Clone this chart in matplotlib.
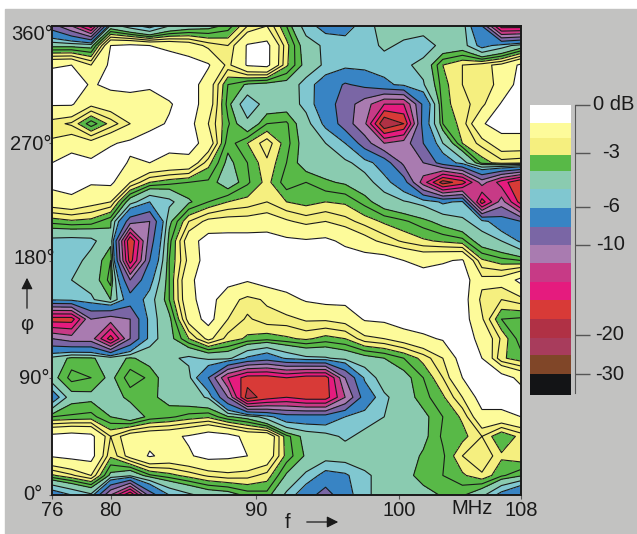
import numpy as np
import matplotlib
matplotlib.use('Agg')
import matplotlib.pyplot as plt
from matplotlib.patches import Rectangle

plt.rcParams['font.family'] = ['Liberation Sans', 'DejaVu Sans']

# attenuation in dB (positive = below 0 dB), one list per angle, 76 -> 108 MHz
phi_360 = [9, 12, 17, 4.5, 5.5, 6.5, 5, 4.5, 4.3, 3.8, 2.5, 2, 3.5, 5.5, 6.5, 6.5, 5.5, 4.5, 4.5, 4.5, 4.5, 4.5, 8, 17, 17]
phi_345 = [4.2, 4.2, 4.3, 1, 0.8, 1, 1.2, 1.5, 2.2, 2.5, 0.9, 0.7, 2.8, 4.5, 5.2, 5.5, 5.5, 4.8, 5.2, 5.5, 4.7, 4.5, 6.5, 5.5, 4.5]
phi_330 = [1.1, 1, 2, 0.8, 0.5, 0.5, 0.5, 0.6, 0.9, 2.2, 0.9, 0.7, 2.9, 4.3, 5.2, 5.6, 5.5, 5.5, 5.2, 4.7, 3, 2.5, 2.2, 1.8, 0.8]
phi_315 = [0.5, 0.5, 1.1, 0.8, 0.8, 0.9, 0.5, 0.5, 1.5, 3.5, 4.1, 4.3, 4.3, 5.4, 6.8, 8.2, 7.5, 6.3, 5.7, 5.1, 3.2, 2.5, 2.3, 1.8, 0.5]
phi_300 = [0.9, 0.9, 1.8, 1.5, 1.3, 1.3, 1.1, 0.5, 1.5, 3.7, 5.8, 4.5, 4.4, 5.3, 7, 9, 11, 14, 14, 7.5, 3.2, 2.7, 2.2, 0.9, 0.5]
phi_285 = [2.3, 2.6, 3.8, 2.8, 2, 1.3, 0.9, 0.6, 2, 3.4, 4.7, 3.5, 3.4, 4.6, 6.3, 9, 11.5, 20, 18, 7, 3.5, 2.8, 1.1, 0.5, 0.5]
phi_270 = [1.9, 1.5, 1.7, 1.1, 0.8, 0.5, 0.8, 0.6, 1.4, 3.8, 3, 2.2, 3.3, 4.4, 5, 6, 9, 12, 11, 8, 5, 3, 2.3, 1.5, 1.5]
phi_255 = [1, 0.5, 0.8, 0.5, 1.1, 1, 1.2, 1.3, 2.8, 4.2, 3.5, 2.6, 3.5, 4.4, 4.5, 4.8, 5.4, 6.8, 10.5, 10, 7, 5.5, 3.3, 2.7, 2.8]
phi_240 = [0.7, 0.5, 0.9, 0.8, 2, 3, 3.3, 3.5, 3.6, 4.5, 3.6, 2.8, 3.8, 3.5, 3.9, 4.1, 4.6, 5.5, 7, 13, 19, 17, 11, 15, 18]
phi_225 = [1.5, 1.3, 1.7, 2, 4.5, 6, 5.3, 4.1, 3.5, 3, 2.8, 2.5, 3, 3.2, 3, 3.1, 3.7, 4.5, 4.9, 5.3, 6.2, 5.8, 17, 11, 17]
phi_210 = [3.3, 3.1, 3.2, 3.9, 9, 10, 4.2, 2.5, 1.8, 1.7, 1.7, 1.6, 1.9, 2.2, 2, 2.3, 2.7, 3.1, 3.4, 3.8, 4.3, 4.8, 5.5, 7, 8]
phi_195 = [5.3, 5.4, 5.3, 4.2, 18, 9, 3.7, 1.5, 0.5, 0.5, 0.5, 0.5, 0.8, 0.9, 0.8, 1.2, 1.7, 2.2, 2.6, 2.9, 3.1, 3.3, 4.5, 5, 6.2]
phi_180 = [5.3, 5.5, 4.6, 3.5, 17, 8, 3.5, 1.8, 0.4, 0.4, 0.5, 0.5, 0.5, 0.5, 0.5, 0.5, 0.5, 0.5, 1, 1.3, 1.1, 0.9, 2.9, 3.3, 3.5]
phi_165 = [5.5, 5, 4.5, 3.3, 10, 6.5, 3.5, 1.2, 0.5, 0.6, 0.9, 0.5, 0.5, 0.5, 0.5, 0.5, 0.5, 0.5, 0.5, 0.5, 0.5, 0.5, 1.8, 1.7, 0.7]
phi_150 = [5.8, 5.6, 5.2, 4, 7, 5.5, 3.5, 1.3, 0.5, 1.7, 2.2, 1.9, 1.3, 0.9, 0.7, 0.7, 0.5, 0.5, 0.5, 0.5, 0.5, 0.5, 2.2, 2.5, 2.2]
phi_135 = [17, 17, 10, 11, 10, 5.5, 4.2, 1.7, 0.6, 2, 2.6, 2.2, 2.2, 1.9, 1.9, 1.7, 0.9, 0.8, 0.4, 0.4, 0.4, 0.5, 1.9, 3.5, 3.6]
phi_120 = [10, 11, 11, 17, 10, 5.5, 4.3, 3, 1.8, 2.7, 3.1, 3.3, 3.1, 2.9, 3.2, 3, 2.2, 2, 1.6, 1.2, 0.9, 0.5, 1.3, 2.6, 3.8]
phi_105 = [4.7, 3.8, 3.9, 4.4, 3.9, 4.3, 4.8, 5.2, 4.8, 4.7, 6.2, 7, 5.8, 5.2, 5.1, 4.7, 4.3, 4, 3.5, 2.8, 2, 0.5, 1, 2.9, 3.3]
phi_90 = [4.3, 3.3, 3.5, 4.2, 3.2, 3.6, 4.5, 4.7, 8, 14, 17, 17, 16, 17, 17, 10, 5.8, 4.4, 4.3, 3.5, 2.5, 1, 0.5, 0.5, 1.3]
phi_75 = [7, 4.3, 4.2, 4.4, 3.8, 3.8, 4.3, 4.6, 5.1, 10, 19, 17, 16, 17, 17, 12, 7, 5.2, 4.4, 3.7, 3.1, 2, 0.5, 0.5, 0.5]
phi_60 = [3.5, 3.4, 3.3, 4, 4.6, 3.8, 3.6, 3.3, 3.1, 3.9, 4.3, 5.5, 7, 7, 7, 6, 5.5, 5, 4.4, 4.2, 3.5, 2.9, 1.3, 1.3, 1]
phi_45 = [0.7, 0.5, 0.7, 2.5, 1.5, 1.3, 1.2, 0.9, 0.4, 0.6, 1.3, 1.2, 3.3, 4.3, 4.6, 5.2, 4.7, 4.4, 4.4, 4.2, 3.4, 3.2, 2.5, 3.5, 2.8]
phi_30 = [0.9, 0.7, 0.6, 2.9, 1.7, 0.9, 1.3, 1.1, 0.7, 0.8, 1, 1.4, 3.2, 4.1, 4.5, 4.4, 4.4, 4.4, 4.4, 3.9, 3.6, 2.5, 2, 2.9, 2.6]
phi_15 = [3.1, 2.6, 2, 4.2, 4.8, 3.6, 3.2, 2.8, 2.4, 2.2, 2.3, 2.7, 4.1, 5.2, 6.5, 6.2, 5.2, 4.6, 4.4, 3.6, 3.5, 3.1, 2.6, 3.4, 3.9]
phi_0 = [7, 6, 5.2, 12, 18, 9, 6, 5.2, 4.6, 4.4, 3.8, 3.7, 5.2, 7, 9, 6.5, 5.3, 4.4, 4.4, 4.4, 3.9, 3.9, 4.7, 6.5, 8]

freq = np.linspace(76, 108, 25)
angle = np.linspace(0, 360, 25)
freq_ticks = [76, 80, 89.9, 99.7, 108]
freq_labels = ['76', '80', '90', '100', '108']
angle_ticks = [0, 90, 180, 270, 360]
angle_labels = ['0°', '90°', '180°', '270°', '360°']

# colour bands, top of the scale first
band_limits = [0, -1, -2, -3, -4, -5, -6, -8, -10, -12, -14, -16, -18, -20, -24, -30, -40]
band_colors = ['#ffffff', '#fdfb9a', '#f5ef7f', '#58b947', '#8acbb0', '#80c7d0', '#3884c4', '#7a66a5',
               '#a97bb0', '#c73a86', '#e51b7e', '#d83a37', '#b03145', '#a83c5c', '#804628', '#131416']
scale_labels = ['0 dB', '-3', '-6', '-10', '-20', '-30']

rows = [phi_0, phi_15, phi_30, phi_45, phi_60, phi_75, phi_90, phi_105, phi_120, phi_135, phi_150, phi_165,
        phi_180, phi_195, phi_210, phi_225, phi_240, phi_255, phi_270, phi_285, phi_300, phi_315, phi_330,
        phi_345, phi_360]
level_db = -np.array(rows, dtype=float)

W, H = 637, 534
FS = 14.5
fig = plt.figure(figsize=(W / 100, H / 100), dpi=100, facecolor='white')
fig.add_artist(Rectangle((5 / W, 0), 1, 1 - 9 / H, transform=fig.transFigure, color='#c2c2c1', zorder=-5))


def px_axes(left, top, right, bottom):
    return fig.add_axes([left / W, 1 - bottom / H, (right - left) / W, (bottom - top) / H])


def px_text(x, y, s, ha='center'):
    fig.text(x / W, 1 - y / H, s, fontsize=FS, ha=ha, va='center', color='#1a1a1a')


ax = px_axes(52, 26, 521, 495)
fill_levels = band_limits[::-1]
ax.contourf(freq, angle, level_db, levels=fill_levels, colors=band_colors[::-1])
line_levels = sorted(band_limits[1:-1] + [-2.5, -3.5])
ax.contour(freq, angle, level_db, levels=line_levels, colors='#1a1a1a', linewidths=0.8, linestyles='solid')
ax.set_xlim(76, 108)
ax.set_ylim(0, 360)
ax.set_xticks(freq_ticks, freq_labels, fontsize=FS, color='#1a1a1a')
ax.set_yticks(angle_ticks, [''] * 5)
ax.tick_params(axis='x', length=3, width=0.8, pad=1, color='#555555')
ax.tick_params(axis='y', length=2, width=0.8, color='#555555')
for s in ax.spines.values():
    s.set_linewidth(1.4)
    s.set_color('#1a1a1a')

# angle labels do not sit exactly at their ticks in the original
for lab, xr, yc in zip(angle_labels, [43, 50, 55, 52, 53], [494, 379, 258, 145, 34]):
    px_text(xr, yc, lab, ha='right')

# scale bar on the right
band_edges = [105, 123, 138, 155, 171, 189, 208, 227, 245, 263, 282, 300, 319, 338, 355, 374, 395]
scale_px = [105, 153, 207, 245, 335, 374]
bar = px_axes(530, 105, 571, 395)
for i, c in enumerate(band_colors):
    bar.barh(band_edges[i], 1, height=band_edges[i + 1] - band_edges[i], align='edge', color=c, linewidth=0)
bar.set_xlim(0, 1)
bar.set_ylim(395, 105)
bar.set_xticks([])
bar.set_yticks(scale_px, [''] * 6)
bar.yaxis.tick_right()
bar.tick_params(axis='y', length=11, width=1, color='#555555')
for k in ['top', 'bottom', 'left']:
    bar.spines[k].set_visible(False)
bar.spines['right'].set_position(('outward', 3))
bar.spines['right'].set_color('#555555')
bar.spines['right'].set_bounds(105, 393)
for lab, xc, yc in zip(scale_labels, [614, 611, 611, 611, 610, 610], scale_px):
    px_text(xc, yc, lab)

# axis names with arrows
px_text(472, 509, 'MHz')
px_text(288, 522, 'f')
px_text(27, 324, 'φ')
over = fig.add_axes([0, 0, 1, 1], facecolor='none')
over.set_xlim(0, W)
over.set_ylim(H, 0)
over.axis('off')
over.annotate('', xy=(341, 522), xytext=(304, 522), arrowprops=dict(arrowstyle='-|>', color='#1a1a1a', lw=0.9, mutation_scale=17))
over.annotate('', xy=(27, 275), xytext=(27, 311), arrowprops=dict(arrowstyle='-|>', color='#1a1a1a', lw=0.9, mutation_scale=17))

fig.savefig('out.png', dpi=100)
